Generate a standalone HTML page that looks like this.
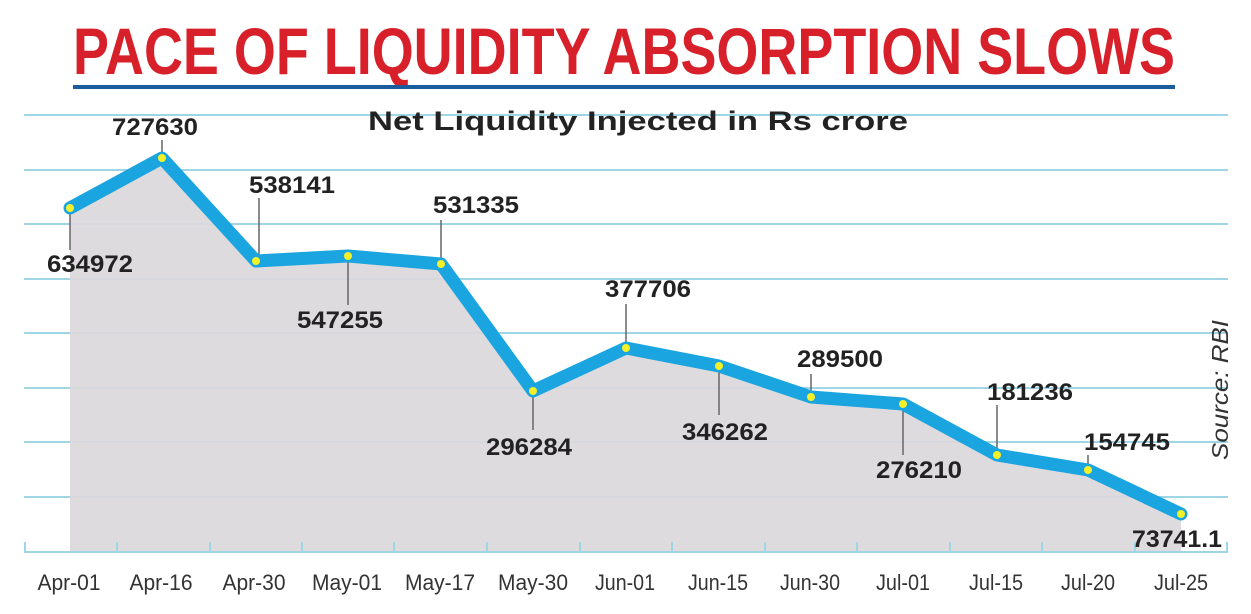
<!DOCTYPE html>
<html><head><meta charset="utf-8"><style>
html,body{margin:0;padding:0;background:#fff;}
svg{display:block;}
</style></head><body>
<svg width="1251" height="614" viewBox="0 0 1251 614" xmlns="http://www.w3.org/2000/svg">
<rect width="1251" height="614" fill="#fff"/>
<text x="624" y="74" text-anchor="middle" font-family="Liberation Sans Narrow, Liberation Sans, sans-serif" font-weight="bold" font-size="66" fill="#d8202a" textLength="1102" lengthAdjust="spacingAndGlyphs">PACE OF LIQUIDITY ABSORPTION SLOWS</text>
<rect x="73" y="85" width="1102" height="4" fill="#1b5c9c"/>
<g stroke="#9fd6e6" stroke-width="2">
<line x1="24" y1="115" x2="1228" y2="115"/>
<line x1="24" y1="170" x2="1228" y2="170"/>
<line x1="24" y1="224" x2="1228" y2="224"/>
<line x1="24" y1="279" x2="1228" y2="279"/>
<line x1="24" y1="333" x2="1228" y2="333"/>
<line x1="24" y1="388" x2="1228" y2="388"/>
<line x1="24" y1="442" x2="1228" y2="442"/>
<line x1="24" y1="497" x2="1228" y2="497"/>
</g>
<polygon fill="#dcd8dc" fill-opacity="0.93" points="70,208 162,158 256,261 348,256 441,264 533,391 626,348 719,366 811,397 903,404 997,455 1088,470 1181,514 1181,552 70,552"/>
<line x1="24" y1="552" x2="1228" y2="552" stroke="#9fd6e6" stroke-width="2"/>
<g stroke="#9fd6e6" stroke-width="2">
<line x1="25" y1="542" x2="25" y2="552"/><line x1="117" y1="542" x2="117" y2="552"/><line x1="210" y1="542" x2="210" y2="552"/><line x1="302" y1="542" x2="302" y2="552"/><line x1="394" y1="542" x2="394" y2="552"/><line x1="487" y1="542" x2="487" y2="552"/><line x1="580" y1="542" x2="580" y2="552"/><line x1="672" y1="542" x2="672" y2="552"/><line x1="765" y1="542" x2="765" y2="552"/><line x1="857" y1="542" x2="857" y2="552"/><line x1="950" y1="542" x2="950" y2="552"/><line x1="1042" y1="542" x2="1042" y2="552"/><line x1="1135" y1="542" x2="1135" y2="552"/><line x1="1227" y1="542" x2="1227" y2="552"/>
</g>
<text x="638" y="130" text-anchor="middle" font-family="Liberation Sans, sans-serif" font-weight="bold" font-size="27" fill="#222" textLength="540" lengthAdjust="spacingAndGlyphs">Net Liquidity Injected in Rs crore</text>
<g stroke="#666" stroke-width="1.5">
<line x1="162" y1="140" x2="162" y2="155"/>
<line x1="70" y1="212" x2="70" y2="250"/>
<line x1="259" y1="198" x2="259" y2="258"/>
<line x1="348" y1="260" x2="348" y2="305"/>
<line x1="441" y1="220" x2="441" y2="262"/>
<line x1="533" y1="395" x2="533" y2="430"/>
<line x1="626" y1="304" x2="626" y2="345"/>
<line x1="719" y1="370" x2="719" y2="415"/>
<line x1="811" y1="374" x2="811" y2="394"/>
<line x1="903" y1="408" x2="903" y2="455"/>
<line x1="997" y1="405" x2="997" y2="452"/>
<line x1="1088" y1="455" x2="1088" y2="467"/>
</g>
<polyline fill="none" stroke="#1aa5e0" stroke-width="13" stroke-linejoin="round" stroke-linecap="round" points="70,208 162,158 256,261 348,256 441,264 533,391 626,348 719,366 811,397 903,404 997,455 1088,470 1181,514"/>
<g fill="#f4f02a">
<circle cx="70" cy="208" r="4"/><circle cx="162" cy="158" r="4"/><circle cx="256" cy="261" r="4"/><circle cx="348" cy="256" r="4"/><circle cx="441" cy="264" r="4"/><circle cx="533" cy="391" r="4"/><circle cx="626" cy="348" r="4"/><circle cx="719" cy="366" r="4"/><circle cx="811" cy="397" r="4"/><circle cx="903" cy="404" r="4"/><circle cx="997" cy="455" r="4"/><circle cx="1088" cy="470" r="4"/><circle cx="1181" cy="514" r="4"/>
</g>
<g font-family="Liberation Sans, sans-serif" font-weight="bold" font-size="24" fill="#222" text-anchor="middle">
<text x="155" y="135" textLength="86" lengthAdjust="spacingAndGlyphs">727630</text>
<text x="90" y="272" textLength="86" lengthAdjust="spacingAndGlyphs">634972</text>
<text x="292" y="193" textLength="86" lengthAdjust="spacingAndGlyphs">538141</text>
<text x="340" y="328" textLength="86" lengthAdjust="spacingAndGlyphs">547255</text>
<text x="476" y="213" textLength="86" lengthAdjust="spacingAndGlyphs">531335</text>
<text x="529" y="455" textLength="86" lengthAdjust="spacingAndGlyphs">296284</text>
<text x="648" y="297" textLength="86" lengthAdjust="spacingAndGlyphs">377706</text>
<text x="725" y="440" textLength="86" lengthAdjust="spacingAndGlyphs">346262</text>
<text x="840" y="367" textLength="86" lengthAdjust="spacingAndGlyphs">289500</text>
<text x="919" y="478" textLength="86" lengthAdjust="spacingAndGlyphs">276210</text>
<text x="1030" y="400" textLength="86" lengthAdjust="spacingAndGlyphs">181236</text>
<text x="1127" y="450" textLength="86" lengthAdjust="spacingAndGlyphs">154745</text>
<text x="1177" y="547" textLength="90" lengthAdjust="spacingAndGlyphs">73741.1</text>
</g>
<g font-family="Liberation Sans, sans-serif" font-size="22" fill="#333" text-anchor="middle">
<text x="69" y="590" textLength="63" lengthAdjust="spacingAndGlyphs">Apr-01</text>
<text x="161" y="590" textLength="63" lengthAdjust="spacingAndGlyphs">Apr-16</text>
<text x="254" y="590" textLength="63" lengthAdjust="spacingAndGlyphs">Apr-30</text>
<text x="347" y="590" textLength="70" lengthAdjust="spacingAndGlyphs">May-01</text>
<text x="440" y="590" textLength="70" lengthAdjust="spacingAndGlyphs">May-17</text>
<text x="533" y="590" textLength="70" lengthAdjust="spacingAndGlyphs">May-30</text>
<text x="625" y="590" textLength="60" lengthAdjust="spacingAndGlyphs">Jun-01</text>
<text x="718" y="590" textLength="60" lengthAdjust="spacingAndGlyphs">Jun-15</text>
<text x="810" y="590" textLength="60" lengthAdjust="spacingAndGlyphs">Jun-30</text>
<text x="903" y="590" textLength="54" lengthAdjust="spacingAndGlyphs">Jul-01</text>
<text x="996" y="590" textLength="54" lengthAdjust="spacingAndGlyphs">Jul-15</text>
<text x="1088" y="590" textLength="54" lengthAdjust="spacingAndGlyphs">Jul-20</text>
<text x="1181" y="590" textLength="54" lengthAdjust="spacingAndGlyphs">Jul-25</text>
</g>
<text transform="translate(1228,390) rotate(-90)" text-anchor="middle" font-family="Liberation Sans, sans-serif" font-style="italic" font-size="23" fill="#333" textLength="140" lengthAdjust="spacingAndGlyphs">Source: RBI</text>
</svg>
</body></html>
